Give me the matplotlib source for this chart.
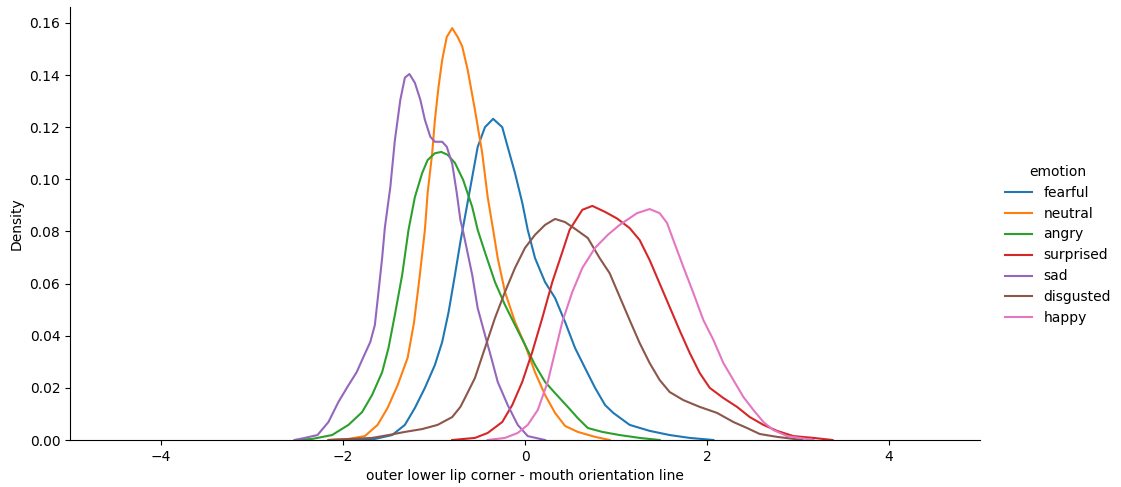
import matplotlib
matplotlib.use("Agg")
import matplotlib.pyplot as plt

# valores (x, densidad) por emocion
emociones = ["fearful", "neutral", "angry", "surprised", "sad", "disgusted", "happy"]
colores = ["#1f77b4", "#ff7f0e", "#2ca02c", "#d62728", "#9467bd", "#8c564b", "#e377c2"]

fearful_x = [-2.14, -1.65, -1.46, -1.32, -1.21, -1.10, -0.99, -0.91, -0.84, -0.77, -0.71, -0.60, -0.52, -0.44, -0.35, -0.25, -0.19, -0.11, -0.03, 0.03, 0.11, 0.22, 0.33, 0.44, 0.55, 0.66, 0.77, 0.88, 0.97, 1.15, 1.37, 1.59, 1.81, 2.07]
fearful_y = [0, 0.0004, 0.0019, 0.0058, 0.0123, 0.020, 0.0288, 0.0376, 0.049, 0.0633, 0.076, 0.097, 0.1124, 0.120, 0.1232, 0.120, 0.1124, 0.1024, 0.091, 0.0806, 0.0698, 0.0606, 0.0545, 0.0453, 0.0353, 0.0276, 0.020, 0.0134, 0.0104, 0.0058, 0.0035, 0.0019, 0.0008, 0]

neutral_x = [-2.16, -1.94, -1.76, -1.62, -1.51, -1.40, -1.29, -1.22, -1.16, -1.10, -1.07, -1.02, -0.99, -0.95, -0.91, -0.86, -0.80, -0.74, -0.69, -0.63, -0.55, -0.47, -0.41, -0.35, -0.30, -0.22, -0.11, 0.0, 0.11, 0.22, 0.33, 0.44, 0.58, 0.77, 0.93]
neutral_y = [0, 0.0004, 0.0015, 0.0058, 0.0123, 0.021, 0.0315, 0.045, 0.062, 0.0806, 0.0948, 0.110, 0.1228, 0.1355, 0.1458, 0.1546, 0.158, 0.1546, 0.151, 0.142, 0.1266, 0.110, 0.0932, 0.0806, 0.0698, 0.0568, 0.0453, 0.0365, 0.026, 0.0173, 0.0104, 0.0054, 0.0031, 0.0012, 0]

angry_x = [-2.53, -2.34, -2.12, -1.94, -1.79, -1.68, -1.57, -1.50, -1.43, -1.35, -1.28, -1.21, -1.13, -1.07, -0.99, -0.92, -0.85, -0.77, -0.68, -0.58, -0.52, -0.44, -0.33, -0.22, -0.11, 0.0, 0.11, 0.22, 0.33, 0.47, 0.58, 0.69, 0.85, 1.04, 1.26, 1.48]
angry_y = [0, 0.0004, 0.0019, 0.0058, 0.0107, 0.0173, 0.026, 0.0353, 0.048, 0.0633, 0.0806, 0.0932, 0.1024, 0.1074, 0.110, 0.1105, 0.1094, 0.1063, 0.0998, 0.0894, 0.0806, 0.072, 0.0606, 0.0518, 0.0441, 0.0365, 0.0288, 0.0223, 0.018, 0.0127, 0.0084, 0.0046, 0.0031, 0.0019, 0.0008, 0]

surprised_x = [-0.80, -0.55, -0.41, -0.25, -0.14, -0.03, 0.08, 0.19, 0.30, 0.41, 0.49, 0.63, 0.74, 0.88, 1.01, 1.15, 1.26, 1.37, 1.48, 1.59, 1.70, 1.81, 1.92, 2.03, 2.18, 2.33, 2.47, 2.62, 2.77, 2.95, 3.17, 3.38]
surprised_y = [0, 0.0008, 0.0027, 0.0069, 0.0134, 0.0223, 0.0338, 0.0468, 0.0606, 0.0721, 0.0806, 0.0883, 0.0898, 0.0875, 0.085, 0.0813, 0.0767, 0.069, 0.060, 0.051, 0.042, 0.0334, 0.0257, 0.020, 0.0161, 0.0127, 0.0088, 0.0058, 0.0035, 0.0015, 0.0008, 0]

sad_x = [-2.53, -2.42, -2.28, -2.16, -2.05, -1.94, -1.85, -1.78, -1.70, -1.65, -1.61, -1.57, -1.54, -1.48, -1.43, -1.37, -1.32, -1.27, -1.21, -1.15, -1.10, -1.04, -0.99, -0.91, -0.86, -0.80, -0.75, -0.71, -0.68, -0.58, -0.52, -0.44, -0.37, -0.30, -0.19, -0.08, 0.03, 0.22]
sad_y = [0, 0.0008, 0.0019, 0.0069, 0.0146, 0.021, 0.026, 0.0315, 0.0376, 0.0441, 0.0568, 0.0698, 0.0815, 0.097, 0.115, 0.1305, 0.139, 0.1404, 0.137, 0.1305, 0.1228, 0.1163, 0.1144, 0.1144, 0.1125, 0.106, 0.0948, 0.0844, 0.080, 0.0633, 0.0506, 0.0403, 0.0315, 0.0223, 0.0134, 0.0058, 0.0015, 0]

disgusted_x = [-2.16, -1.68, -1.50, -1.32, -1.13, -0.96, -0.80, -0.71, -0.66, -0.55, -0.44, -0.33, -0.22, -0.11, 0.0, 0.11, 0.22, 0.33, 0.44, 0.55, 0.69, 0.82, 0.93, 1.04, 1.15, 1.26, 1.37, 1.48, 1.59, 1.74, 1.92, 2.11, 2.29, 2.44, 2.58, 2.77, 3.05]
disgusted_y = [0, 0.0008, 0.0019, 0.0031, 0.0042, 0.0058, 0.0088, 0.0127, 0.0161, 0.0238, 0.0353, 0.0468, 0.0568, 0.066, 0.0737, 0.0787, 0.0825, 0.0848, 0.0836, 0.081, 0.0775, 0.0698, 0.064, 0.055, 0.046, 0.0372, 0.0295, 0.023, 0.0184, 0.0153, 0.0127, 0.0104, 0.0069, 0.0046, 0.0023, 0.0012, 0]

happy_x = [-0.41, -0.22, -0.08, 0.03, 0.14, 0.25, 0.33, 0.41, 0.52, 0.63, 0.77, 0.91, 1.04, 1.23, 1.37, 1.48, 1.56, 1.63, 1.74, 1.85, 1.96, 2.07, 2.18, 2.29, 2.40, 2.51, 2.62, 2.73, 2.88, 3.02, 3.17]
happy_y = [0, 0.0008, 0.0027, 0.0058, 0.0115, 0.0223, 0.0338, 0.0453, 0.0568, 0.066, 0.0737, 0.0787, 0.0825, 0.087, 0.0886, 0.087, 0.0833, 0.0767, 0.0664, 0.0564, 0.046, 0.0384, 0.0295, 0.023, 0.0165, 0.0115, 0.0069, 0.0038, 0.0015, 0.0008, 0]

curvas = {
    "fearful": (fearful_x, fearful_y),
    "neutral": (neutral_x, neutral_y),
    "angry": (angry_x, angry_y),
    "surprised": (surprised_x, surprised_y),
    "sad": (sad_x, sad_y),
    "disgusted": (disgusted_x, disgusted_y),
    "happy": (happy_x, happy_y),
}

fig = plt.figure(figsize=(11.21, 4.87), dpi=100)
ax = fig.add_axes([70 / 1121, 47 / 487, 910 / 1121, 433 / 487])

for emo, col in zip(emociones, colores):
    xs, ys = curvas[emo]
    ax.plot(xs, ys, color=col, lw=1.5, label=emo, solid_joinstyle="round")

ax.set_xlim(-5, 5)
ax.set_ylim(0, 0.1661)
ax.set_yticks([0, 0.02, 0.04, 0.06, 0.08, 0.10, 0.12, 0.14, 0.16])
ax.set_xlabel("outer lower lip corner - mouth orientation line")
ax.set_ylabel("Density")
ax.spines["top"].set_visible(False)
ax.spines["right"].set_visible(False)

handles, labels = ax.get_legend_handles_labels()
fig.legend(handles, labels, title="emotion", frameon=False,
           loc="center left", bbox_to_anchor=(0.885, 0.497))

fig.savefig("out.png", dpi=100)
